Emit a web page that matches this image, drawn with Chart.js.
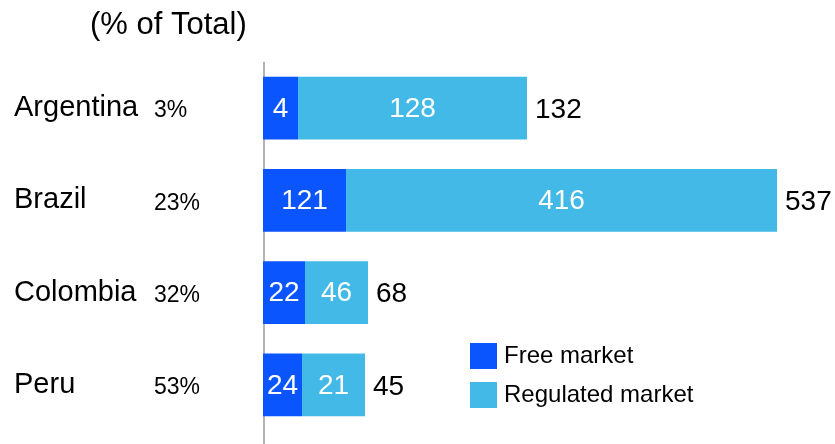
<!DOCTYPE html>
<html>
<head>
<meta charset="utf-8">
<script src="https://cdn.jsdelivr.net/npm/chart.js@4"></script>
<style>
  body { margin: 0; background: #fff; }
  canvas { display: block; }
</style>
</head>
<body>
<canvas id="myChart" width="835" height="444"></canvas>
<script>
const countries = ['Argentina', 'Brazil', 'Colombia', 'Peru'];
const freeMarket = [4, 121, 22, 24];
const regulatedMarket = [128, 416, 46, 21];
const totals = [132, 537, 68, 45];
const freeShare = ['3%', '23%', '32%', '53%'];
// the original bars are not drawn to scale, so lengths are read off the picture
const freeBarLength = [35, 83, 42, 39];
const regulatedBarLength = [229, 431, 63, 63];

const FONT = '"Liberation Sans", Arial, sans-serif';
const FREE_COLOR = '#0A55FE';
const REG_COLOR = '#42B9E6';

const labelsPlugin = {
    id: 'labels',
    beforeDatasetsDraw(chart) {
        const c = chart.ctx;
        const area = chart.chartArea;
        c.save();
        // vertical axis line
        c.strokeStyle = '#b4b4b4';
        c.lineWidth = 2;
        c.beginPath();
        c.moveTo(area.left + 1, 62);
        c.lineTo(area.left + 1, chart.height);
        c.stroke();
        c.restore();
    },
    afterDatasetsDraw(chart) {
        const c = chart.ctx;
        const values = [freeMarket, regulatedMarket];
        c.save();
        c.textBaseline = 'middle';

        // title
        c.fillStyle = '#000';
        c.font = '31px ' + FONT;
        c.textAlign = 'left';
        c.fillText('(% of Total)', 90, 25);

        // values inside the bars
        c.fillStyle = '#fff';
        c.font = '28px ' + FONT;
        c.textAlign = 'center';
        chart.data.datasets.forEach((ds, i) => {
            chart.getDatasetMeta(i).data.forEach((bar, j) => {
                c.fillText(values[i][j], (bar.x + bar.base) / 2, bar.y + 1);
            });
        });

        // totals after the bars
        const last = chart.getDatasetMeta(1).data;
        c.fillStyle = '#000';
        c.textAlign = 'left';
        last.forEach((bar, j) => {
            c.fillText(totals[j], bar.x + 8, bar.y + 2);
        });

        // country names and shares
        const y = chart.scales.y;
        countries.forEach((name, j) => {
            const py = y.getPixelForValue(j);
            c.font = '29px ' + FONT;
            c.fillText(name, 14, py);
            c.font = '23px ' + FONT;
            c.fillText(freeShare[j], 154, py + 3);
        });

        // legend
        c.font = '24px ' + FONT;
        chart.data.datasets.forEach((ds, i) => {
            const ly = 343 + i * 39;
            c.fillStyle = ds.backgroundColor;
            c.fillRect(470, ly, 27, 26);
            c.fillStyle = '#000';
            c.fillText(ds.label, 504, ly + 13);
        });
        c.restore();
    }
};

const ctx = document.getElementById('myChart').getContext('2d');
const myChart = new Chart(ctx, {
    type: 'bar',
    data: {
        labels: countries,
        datasets: [{
            label: 'Free market',
            data: freeBarLength,
            backgroundColor: FREE_COLOR
        }, {
            label: 'Regulated market',
            data: regulatedBarLength,
            backgroundColor: REG_COLOR
        }]
    },
    options: {
        indexAxis: 'y',
        responsive: false,
        animation: false,
        layout: {
            padding: { left: 263, right: 2, top: 62, bottom: 13 }
        },
        datasets: {
            bar: { categoryPercentage: 1, barPercentage: 0.68 }
        },
        scales: {
            x: { stacked: true, display: false, min: 0, max: 570 },
            y: { stacked: true, display: false }
        },
        plugins: {
            legend: { display: false },
            tooltip: { enabled: false }
        }
    },
    plugins: [labelsPlugin]
});
</script>
</body>
</html>
